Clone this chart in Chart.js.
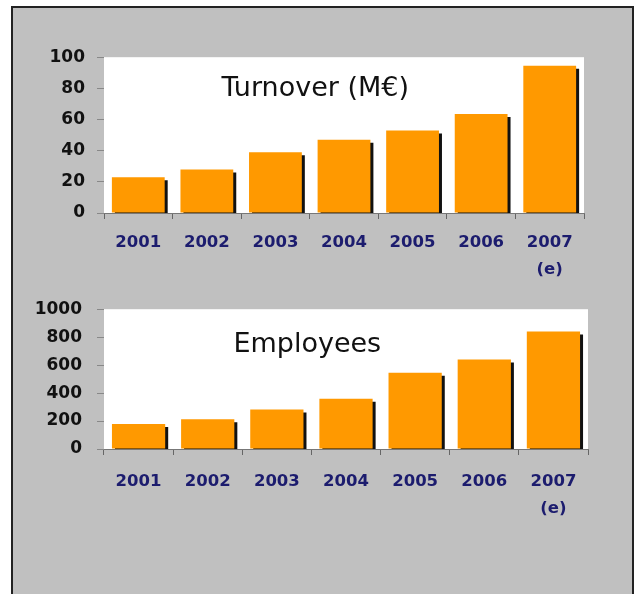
<!DOCTYPE html>
<html>
<head>
<meta charset="utf-8">
<script src="https://cdn.jsdelivr.net/npm/chart.js@4/dist/chart.umd.min.js"></script>
<style>
  body { margin: 0; background: #fff; width: 641px; height: 594px; overflow: hidden; position: relative; }
  #frame { position: absolute; left: 11px; top: 6px; width: 619px; height: 620px; background: #c0c0c0; border: 2px solid #222; }
  canvas { position: absolute; left: 0; }
  #turnover { top: 35px; }
  #staff { top: 284px; }
</style>
</head>
<body>
<div id="frame"></div>
<canvas id="turnover" width="641" height="250"></canvas>
<canvas id="staff" width="641" height="260"></canvas>
<script>
// years, last one is an estimate
const years = ["2001", "2002", "2003", "2004", "2005", "2006", ["2007", "(e)"]];
const turnover = [23, 28, 39, 47, 53, 63.5, 94.5];
const employees = [178, 212, 283, 359, 545, 640, 840];
const turnoverTicks = [0, 20, 40, 60, 80, 100];
const employeeTicks = [0, 200, 400, 600, 800, 1000];

const orange = '#ff9900';
const navy = '#1c1c6e';

// white plot area + the title written inside it
const plotBg = {
  id: 'plotBg',
  beforeDraw(chart) {
    const { ctx, chartArea: a } = chart;
    ctx.save();
    ctx.fillStyle = '#fff';
    ctx.fillRect(a.left, a.top, a.right - a.left, a.bottom - a.top);
    ctx.restore();
  },
  afterDraw(chart, args, opts) {
    const { ctx, chartArea: a } = chart;
    ctx.save();
    ctx.font = '27px "DejaVu Sans"';
    ctx.fillStyle = '#111';
    ctx.textAlign = 'center';
    ctx.textBaseline = 'middle';
    ctx.fillText(opts.text, a.left + (a.right - a.left) * opts.fx, a.top + opts.dy);
    ctx.restore();
  }
};

// dark drop shadow on the right of every bar
const barShadow = {
  id: 'barShadow',
  beforeDatasetsDraw(chart) {
    const ctx = chart.ctx;
    ctx.save();
    ctx.shadowColor = '#111';
    ctx.shadowOffsetX = 3;
    ctx.shadowOffsetY = 3;
    ctx.shadowBlur = 0;
  },
  afterDatasetsDraw(chart) {
    chart.ctx.restore();
  }
};

const makeChart = (id, values, ticks, cfg) => {
  return new Chart(document.getElementById(id), {
    type: 'bar',
    data: {
      labels: years,
      datasets: [{
        data: values,
        backgroundColor: orange,
        borderWidth: 0,
        categoryPercentage: 1,
        barPercentage: 0.77,
        clip: 0
      }]
    },
    options: {
      responsive: false,
      animation: false,
      events: [],
      layout: { padding: { top: cfg.padTop, right: cfg.padRight, left: 0, bottom: 0 } },
      plugins: {
        legend: { display: false },
        tooltip: { enabled: false },
        plotBg: { text: cfg.title, fx: cfg.fx, dy: cfg.dy }
      },
      scales: {
        x: {
          afterFit: (s) => { s.height = cfg.xHeight; },
          grid: { drawOnChartArea: false, color: '#666', tickLength: 6, offset: true },
          border: { color: '#777', width: 1 },
          ticks: {
            color: navy,
            padding: cfg.xPad,
            font: { family: 'DejaVu Sans', weight: 'bold', size: 16.5, lineHeight: 1.64 }
          }
        },
        y: {
          min: ticks[0],
          max: ticks[ticks.length - 1],
          afterFit: (s) => { s.width = 104; },
          afterBuildTicks: (s) => { s.ticks = ticks.map(v => ({ value: v })); },
          grid: { drawOnChartArea: false, color: '#888', tickLength: 7 },
          border: { display: false },
          ticks: {
            color: '#111',
            padding: cfg.yPad,
            callback: (v) => String(v),
            font: { family: 'DejaVu Sans', weight: 'bold', size: 17 }
          }
        }
      }
    },
    plugins: [plotBg, barShadow]
  });
};

makeChart('turnover', turnover, turnoverTicks,
  { title: 'Turnover (M€)', fx: 0.44, dy: 32, padTop: 12, padRight: 57, xHeight: 72, xPad: 10, yPad: 12 });
makeChart('staff', employees, employeeTicks,
  { title: 'Employees', fx: 0.42, dy: 36, padTop: 13, padRight: 53, xHeight: 95, xPad: 13, yPad: 15 });
</script>
</body>
</html>
